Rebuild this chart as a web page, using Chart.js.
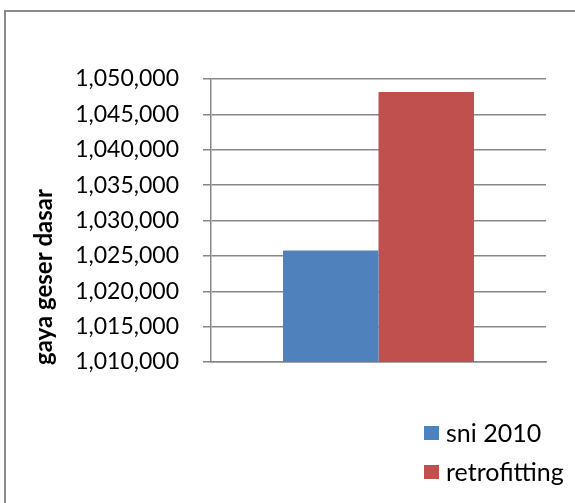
<!DOCTYPE html>
<html lang="en">
<head>
    <meta charset="UTF-8">
    <title>gaya geser dasar</title>
    <script src="https://cdn.jsdelivr.net/npm/chart.js"></script>
    <style>
        html, body {
            margin: 0;
            padding: 0;
            background: #ffffff;
        }
        #chart-container {
            width: 575px;
            height: 503px;
        }
    </style>
</head>
<body>
    <div id="chart-container">
        <canvas id="shearChart"></canvas>
    </div>

    <script>
        // base shear values (kN) for the two analyses
        const categories = [''];
        const seriesNames = ['sni 2010', 'retrofitting'];
        const sniValues = [1025750];
        const retrofitValues = [1048150];
        const axisMin = 1010000;
        const axisMax = 1050000;
        const axisStep = 5000;
        const axisTitle = 'gaya geser dasar';

        const fontFamily = 'Lato, "Open Sans", sans-serif';
        const lineGray = '#878787';

        // outer frame around the whole chart
        const framePlugin = {
            id: 'frame',
            beforeDraw(chart) {
                const ctx = chart.ctx;
                ctx.save();
                ctx.strokeStyle = '#8a8a8a';
                ctx.lineWidth = 2;
                ctx.strokeRect(5, 11, 700, 700);
                ctx.restore();
            }
        };

        // rotated y title
        const yTitlePlugin = {
            id: 'yTitle',
            afterDraw(chart) {
                const ctx = chart.ctx;
                ctx.save();
                ctx.translate(44, 277);
                ctx.rotate(-Math.PI / 2);
                ctx.font = 'bold 24px ' + fontFamily;
                ctx.fillStyle = '#000';
                ctx.textAlign = 'center';
                ctx.textBaseline = 'middle';
                ctx.fillText(axisTitle, 0, 0);
                ctx.restore();
            }
        };

        // stacked legend under the plot, right side
        const legendPlugin = {
            id: 'sideLegend',
            afterDraw(chart) {
                const ctx = chart.ctx;
                const rows = [433, 472];
                ctx.save();
                ctx.font = '25px ' + fontFamily;
                ctx.textBaseline = 'middle';
                chart.data.datasets.forEach((ds, i) => {
                    const y = rows[i];
                    ctx.fillStyle = ds.backgroundColor;
                    ctx.fillRect(424, y - 7, 15, 14);
                    ctx.fillStyle = '#000';
                    ctx.fillText(ds.label, 446, y + 1);
                });
                ctx.restore();
            }
        };

        const ctx = document.getElementById('shearChart').getContext('2d');
        new Chart(ctx, {
            type: 'bar',
            data: {
                labels: categories,
                datasets: [
                    {
                        label: seriesNames[0],
                        data: sniValues,
                        backgroundColor: '#4F81BD'
                    },
                    {
                        label: seriesNames[1],
                        data: retrofitValues,
                        backgroundColor: '#C0504D'
                    }
                ]
            },
            options: {
                responsive: true,
                maintainAspectRatio: false,
                animation: false,
                layout: {
                    padding: { top: 79, right: 29, bottom: 0, left: 0 }
                },
                datasets: {
                    bar: {
                        categoryPercentage: 0.57,
                        barPercentage: 1.0
                    }
                },
                plugins: {
                    legend: { display: false },
                    tooltip: { enabled: false }
                },
                scales: {
                    x: {
                        afterFit(scale) { scale.height = 141; },
                        grid: { display: false },
                        ticks: { display: false },
                        border: { display: true, color: lineGray, width: 1.5 }
                    },
                    y: {
                        min: axisMin,
                        max: axisMax,
                        afterFit(scale) { scale.width = 211; },
                        ticks: {
                            stepSize: axisStep,
                            padding: 24,
                            color: '#000',
                            font: { family: fontFamily, size: 23 },
                            callback: v => v.toLocaleString('en-US')
                        },
                        grid: {
                            color: lineGray,
                            lineWidth: 1.5,
                            tickLength: 8,
                            tickColor: lineGray
                        },
                        border: { display: true, color: lineGray, width: 1.5 }
                    }
                }
            },
            plugins: [framePlugin, yTitlePlugin, legendPlugin]
        });
    </script>
</body>
</html>
